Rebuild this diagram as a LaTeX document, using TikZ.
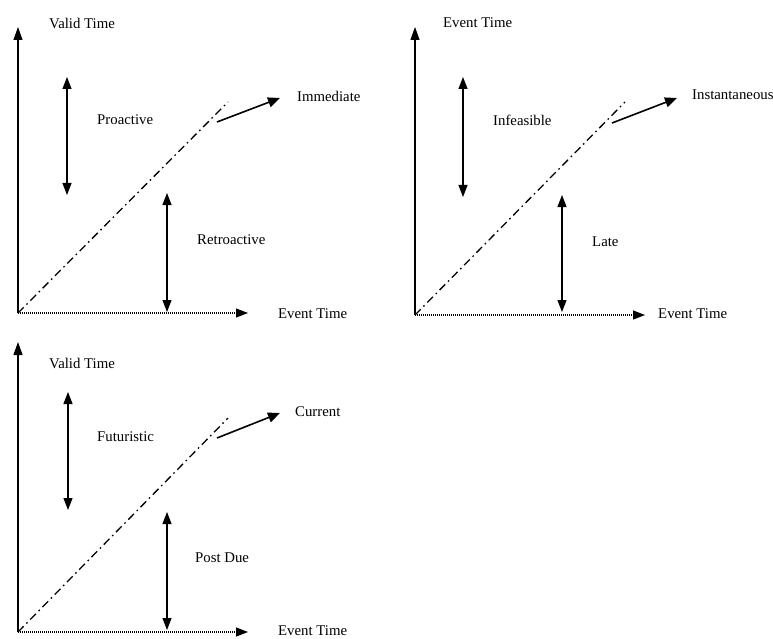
\documentclass[tikz,border=0pt]{standalone}
\usepackage{fontspec}
\setmainfont{Liberation Serif}
\usetikzlibrary{arrows.meta}

\begin{document}
\begin{tikzpicture}[
  x=1pt, y=-1pt,
  lbl/.style={anchor=west, inner sep=0pt, font=\fontsize{14.8}{17}\selectfont},
  axis/.style={line width=1.1pt, -{Triangle[length=13pt,width=9pt]}},
  timeaxis/.style={line width=1.1pt, dash pattern=on 1pt off 1pt,
                   -{Triangle[length=12pt,width=9pt]}},
  diag/.style={line width=1.3pt, dash pattern=on 8pt off 4pt on 1.5pt off 4pt},
  span/.style={line width=1.2pt,
               {Triangle[length=12pt,width=9pt]}-{Triangle[length=12pt,width=9pt]}},
  pointer/.style={line width=1.6pt, -{Triangle[length=12pt,width=10pt]}}
]
\useasboundingbox (0,0) rectangle (773,639);

% valid time vs event time
\begin{scope}[shift={(18,313)}]
  \coordinate (o1) at (0,0);
  \coordinate (v1) at (0,-286);
  \coordinate (h1) at (230,0);
  \coordinate (d1) at (210,-211);
  \coordinate (s1) at (199,-191);
  \coordinate (t1) at (262,-215);
  \coordinate (pa1) at (49,-236);
  \coordinate (pb1) at (49,-118);
  \coordinate (ra1) at (149,-120);
  \coordinate (rb1) at (149,-1);
  \node[lbl] (vt1) at (31,-290) {Valid Time};
  \node[lbl] (et1) at (260,1) {Event Time};
  \node[lbl] (imm) at (279,-217) {Immediate};
  \node[lbl] (pro) at (79,-193) {Proactive};
  \node[lbl] (retro) at (179,-73) {Retroactive};
\end{scope}
\draw[axis] (o1) -- (v1);
\draw[timeaxis] (o1) -- (h1);
\draw[diag] (o1) -- (d1);
\draw[pointer] (s1) -- (t1);
\draw[span] (pa1) -- (pb1);
\draw[span] (ra1) -- (rb1);

% event time vs event time
\begin{scope}[shift={(415,315)}]
  \coordinate (o2) at (0,0);
  \coordinate (v2) at (0,-288);
  \coordinate (h2) at (230,0);
  \coordinate (d2) at (210,-213);
  \coordinate (s2) at (197,-192);
  \coordinate (t2) at (262,-217);
  \coordinate (pa2) at (48,-238);
  \coordinate (pb2) at (48,-118);
  \coordinate (ra2) at (147,-120);
  \coordinate (rb2) at (147,-3);
  \node[lbl] (vt2) at (28,-292) {Event Time};
  \node[lbl] (et2) at (243,-1) {Event Time};
  \node[lbl] (inst) at (277,-220) {Instantaneous};
  \node[lbl] (infeas) at (78,-195) {Infeasible};
  \node[lbl] (late) at (177,-73) {Late};
\end{scope}
\draw[axis] (o2) -- (v2);
\draw[timeaxis] (o2) -- (h2);
\draw[diag] (o2) -- (d2);
\draw[pointer] (s2) -- (t2);
\draw[span] (pa2) -- (pb2);
\draw[span] (ra2) -- (rb2);

% valid time vs event time, lower
\begin{scope}[shift={(18,632)}]
  \coordinate (o3) at (0,0);
  \coordinate (v3) at (0,-290);
  \coordinate (h3) at (230,0);
  \coordinate (d3) at (210,-214);
  \coordinate (s3) at (199,-194);
  \coordinate (t3) at (262,-219);
  \coordinate (pa3) at (50,-240);
  \coordinate (pb3) at (50,-122);
  \coordinate (ra3) at (149,-120);
  \coordinate (rb3) at (149,-2);
  \node[lbl] (vt3) at (31,-269) {Valid Time};
  \node[lbl] (et3) at (260,-1) {Event Time};
  \node[lbl] (cur) at (277,-220) {Current};
  \node[lbl] (fut) at (79,-195) {Futuristic};
  \node[lbl] (post) at (177,-74) {Post Due};
\end{scope}
\draw[axis] (o3) -- (v3);
\draw[timeaxis] (o3) -- (h3);
\draw[diag] (o3) -- (d3);
\draw[pointer] (s3) -- (t3);
\draw[span] (pa3) -- (pb3);
\draw[span] (ra3) -- (rb3);
\end{tikzpicture}
\end{document}
